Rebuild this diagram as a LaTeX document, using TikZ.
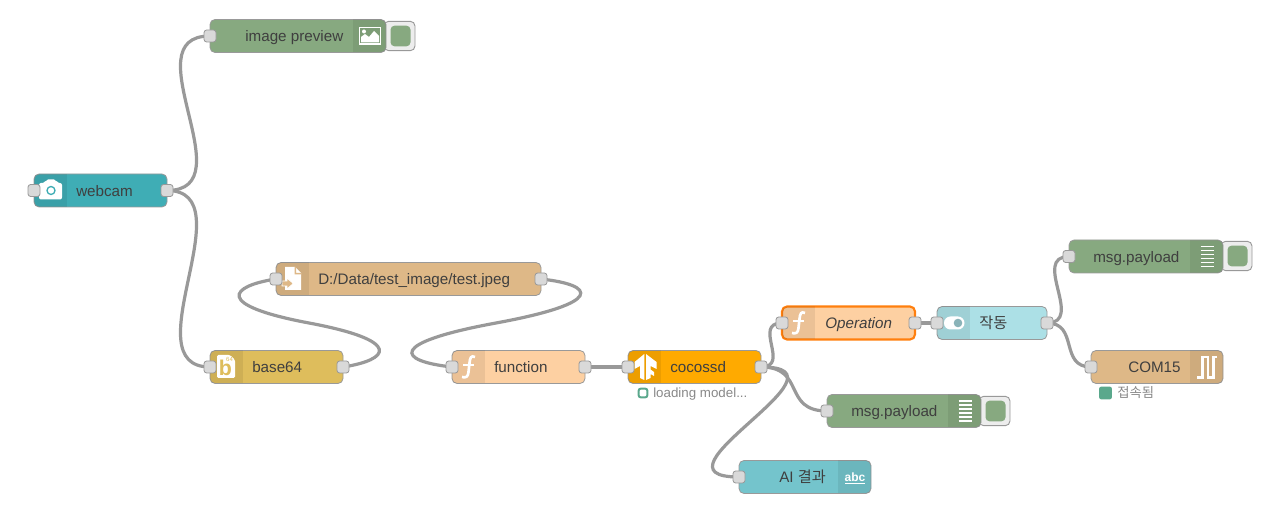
\documentclass[tikz,border=0pt]{standalone}
\usepackage{fontspec}
\setmainfont{Liberation Sans}
\newfontfamily\cjk{Noto Sans CJK KR}
\usetikzlibrary{backgrounds}

\definecolor{boxline}{HTML}{999999}
\definecolor{portfill}{HTML}{D9D9D9}
\definecolor{wirecol}{HTML}{999999}
\definecolor{labelcol}{HTML}{3F3F3F}
\definecolor{statuscol}{HTML}{888888}
\definecolor{statusgreen}{HTML}{5AA88C}
\definecolor{webcamcol}{HTML}{3FADB5}
\definecolor{debugcol}{HTML}{87A980}
\definecolor{filecol}{HTML}{DEB887}
\definecolor{basecol}{HTML}{DEBD5C}
\definecolor{funccol}{HTML}{FDD0A2}
\definecolor{cococol}{HTML}{FFAA00}
\definecolor{switchcol}{HTML}{ACE0E6}
\definecolor{textcol}{HTML}{74C4CC}
\definecolor{selcol}{HTML}{FF7F0E}

\tikzset{
  flowbox/.style={draw=boxline, line width=0.6pt, rounded corners=3.75pt, minimum height=24.75pt,
    inner sep=0pt, outer sep=0pt, anchor=west},
  flowport/.style={draw=boxline, fill=portfill, line width=0.6pt, rounded corners=2pt,
    minimum width=9pt, minimum height=9pt, inner sep=0pt, outer sep=0pt},
  flowbutton/.style={draw=boxline, fill=white!93!black, line width=0.7pt, rounded corners=3.5pt,
    minimum width=23.25pt, minimum height=22pt, inner sep=0pt, outer sep=0pt, anchor=west},
  buttonface/.style={fill=debugcol, rounded corners=3pt, minimum width=15pt, minimum height=15.5pt,
    inner sep=0pt, outer sep=0pt},
  flowlabel/.style={text=labelcol, font=\fontsize{11.4}{13}\selectfont, inner sep=0pt, anchor=base west, yshift=-4.2pt},
  statuslabel/.style={text=statuscol, font=\fontsize{10}{12}\selectfont, inner sep=0pt, anchor=base west, yshift=-3.5pt},
  wire/.style={draw=wirecol, line width=2.4pt},
  functionicon/.pic={
    \draw[white, line width=2pt] (7,-10) .. controls (3,-12) and (2,-9) .. (1.5,-4) -- (0.5,5)
      .. controls (0,10) and (-2,11) .. (-6,10);
    \draw[white, line width=1.2pt] (-5,-2) -- (6,-2);
  },
  debugicon/.pic={
    \foreach \k in {-10,-6,-2,2,6,10}
      \draw[white, line width=1.1pt] (-6.5,\k) -- (6.5,\k);
  }
}

\newcommand{\iconleft}[1]{
  \begin{scope}
    \clip[rounded corners=3.75pt] (#1.south west) rectangle (#1.north east);
    \fill[black, fill opacity=.07] (#1.south west) rectangle ([xshift=24.75pt]#1.north west);
  \end{scope}
}
\newcommand{\iconright}[1]{
  \begin{scope}
    \clip[rounded corners=3.75pt] (#1.south west) rectangle (#1.north east);
    \fill[black, fill opacity=.07] (#1.south east) rectangle ([xshift=-24.75pt]#1.north east);
  \end{scope}
}

\begin{document}
\begin{tikzpicture}[x=0.75pt,y=-0.75pt]
\useasboundingbox (0,0) rectangle (1268,516);

% buttons sit behind the boxes
\node[flowbutton] (previewBtn) at (384,36) {};
\node[flowbutton] (debugTopBtn) at (1221,256) {};
\node[flowbutton] (debugLowBtn) at (979,411) {};
\node[buttonface] (previewFace) at (400.5,36) {};
\node[buttonface] (debugTopFace) at (1237.5,256) {};
\node[buttonface] (debugLowFace) at (995.5,411) {};

\node[flowbox, fill=webcamcol, minimum width=99.75pt] (webcam) at (34,190.5) {};
\node[flowbox, fill=debugcol, minimum width=132pt] (preview) at (210,36) {};
\node[flowbox, fill=filecol, minimum width=198.75pt] (readfile) at (276,279) {};
\node[flowbox, fill=basecol, minimum width=99.75pt] (base64) at (210,367) {};
\node[flowbox, fill=funccol, minimum width=99.75pt] (func) at (452,367) {};
\node[flowbox, fill=cococol, minimum width=99.75pt] (cocossd) at (628,367) {};
\node[flowbox, fill=funccol, draw=selcol, line width=1.6pt, minimum width=99.75pt] (operation) at (782,323) {};
\node[flowbox, fill=switchcol, minimum width=82.5pt] (toggle) at (937,323) {};
\node[flowbox, fill=debugcol, minimum width=115.5pt] (debugTop) at (1069,256.5) {};
\node[flowbox, fill=filecol, minimum width=99pt] (serial) at (1091,367) {};
\node[flowbox, fill=debugcol, minimum width=115.5pt] (debugLow) at (827,411) {};
\node[flowbox, fill=textcol, minimum width=99pt] (result) at (739,477) {};

\iconleft{webcam}
\iconright{preview}
\iconleft{readfile}
\iconleft{base64}
\iconleft{func}
\iconleft{cocossd}
\iconleft{operation}
\iconleft{toggle}
\iconright{debugTop}
\iconright{serial}
\iconright{debugLow}
\iconright{result}

% camera
\fill[white, rounded corners=1.5pt] (39,183) -- (45,183) -- (46,179.5) -- (56,179.5) -- (57,183) -- (62,183)
  -- (62,199.5) -- (39,199.5) -- cycle;
\draw[webcamcol, line width=1pt] (51,190.5) circle (4);
% image
\draw[white, line width=1.2pt] (359.5,27.5) rectangle (380.5,44);
\fill[white] (361,42.5) -- (361,37) -- (365,34) -- (369,37) -- (374,31) -- (379,36) -- (379,42.5) -- cycle;
\fill[white] (364,31.5) circle (2);
% file
\fill[white] (285,267) -- (295,267) -- (301,273) -- (301,290) -- (285,290) -- cycle;
\fill[filecol] (296,267) -- (296,273) -- (301,273) -- (301,274.5) -- (294.5,274.5) -- (294.5,267) -- cycle;
\fill[filecol, draw=white, line width=0.7pt] (282,281) -- (287,281) -- (287,278) -- (293.5,283.5) -- (287,289) -- (287,286) -- (282,286) -- cycle;
% b64
\fill[white, rounded corners=1pt] (217,355) -- (230,355) -- (235,360) -- (235,378) -- (217,378) -- cycle;
\node[text=basecol, font=\bfseries\fontsize{16}{16}\selectfont, inner sep=0pt] (base64b) at (225.5,368) {b};
\node[text=basecol, font=\fontsize{4.5}{5}\selectfont, inner sep=0pt] (base64n) at (229.5,359.5) {64};
% f
\pic at (468,367) {functionicon};
\pic at (798,323) {functionicon};
% tensorflow
\fill[white] (634.5,362) -- (644.3,354) -- (644.3,380) -- (640,378) -- (640,366) -- (634.5,369) -- cycle;
\fill[white] (646,354) -- (656.5,362) -- (656.5,369) -- (650.5,366) -- (650.5,369.5) -- (654,372) -- (654,376) -- (650.5,374) -- (650.5,378) -- (646,380) -- cycle;
% switch
\fill[white, rounded corners=4.8pt] (944,316.5) rectangle (964.5,329.5);
\fill[switchcol!80!black] (958,323) circle (4.3);
% debug lines
\pic at (1207,256.5) {debugicon};
\pic at (965,411) {debugicon};
% serial
\draw[white, line width=2pt] (1197,377.5) -- (1202.5,377.5) -- (1202.5,357) -- (1208,357) -- (1208,377.5) -- (1213.5,377.5) -- (1213.5,357) -- (1217,357);
% abc
\node[text=white, font=\bfseries\fontsize{9}{10}\selectfont, inner sep=0pt] (abcIcon) at (855,477) {abc};
\draw[white, line width=1pt] (845,483.5) -- (865,483.5);

\node[flowlabel] (webcamText) at (76,190.5) {webcam};
\node[flowlabel] (previewText) at (245,36) {image preview};
\node[flowlabel] (readfileText) at (318,279) {D:/Data/test\_image/test.jpeg};
\node[flowlabel] (base64Text) at (252,367) {base64};
\node[flowlabel] (funcText) at (494,367) {function};
\node[flowlabel] (cocossdText) at (670,367) {cocossd};
\node[flowlabel, font=\fontsize{11.4}{13}\selectfont\itshape] (operationText) at (825,323) {Operation};
\node[flowlabel] (toggleText) at (979,323) {\cjk 작동};
\node[flowlabel] (debugTopText) at (1093,256.5) {msg.payload};
\node[flowlabel] (serialText) at (1128,367) {COM15};
\node[flowlabel] (debugLowText) at (851,411) {msg.payload};
\node[flowlabel] (resultText) at (779,477) {AI {\cjk 결과}};

% status lines
\node[draw=statusgreen, fill=white, line width=1.5pt, rounded corners=1.5pt, minimum width=6.5pt, minimum height=6.5pt, inner sep=0pt] (cocossdDot) at (643,393) {};
\node[statuslabel] (cocossdStatus) at (653,393) {loading model...};
\node[fill=statusgreen, rounded corners=1.5pt, minimum width=9.5pt, minimum height=9.5pt, inner sep=0pt] (serialDot) at (1105.5,393) {};
\node[statuslabel] (serialStatus) at (1117,393) {\cjk 접속됨};

% ports
\node[flowport] (webcamIn) at (webcam.west) {};
\node[flowport] (webcamOut) at (webcam.east) {};
\node[flowport] (previewIn) at (preview.west) {};
\node[flowport] (readfileIn) at (readfile.west) {};
\node[flowport] (readfileOut) at (readfile.east) {};
\node[flowport] (base64In) at (base64.west) {};
\node[flowport] (base64Out) at (base64.east) {};
\node[flowport] (funcIn) at (func.west) {};
\node[flowport] (funcOut) at (func.east) {};
\node[flowport] (cocossdIn) at (cocossd.west) {};
\node[flowport] (cocossdOut) at (cocossd.east) {};
\node[flowport] (operationIn) at (operation.west) {};
\node[flowport] (operationOut) at (operation.east) {};
\node[flowport] (toggleIn) at (toggle.west) {};
\node[flowport] (toggleOut) at (toggle.east) {};
\node[flowport] (debugTopIn) at (debugTop.west) {};
\node[flowport] (serialIn) at (serial.west) {};
\node[flowport] (debugLowIn) at (debugLow.west) {};
\node[flowport] (resultIn) at (result.west) {};

% the two long wires bend back through a middle point
\coordinate (loopLeft) at (309,323);
\coordinate (loopRight) at (496,323);

\begin{scope}[on background layer]
\draw[wire] (webcamOut.center) .. controls +(80,0) and +(-80,0) .. (previewIn.center);
\draw[wire] (webcamOut.center) .. controls +(80,0) and +(-80,0) .. (base64In.center);
\draw[wire] (base64Out.center) .. controls +(46,-7) and +(96,18) .. (loopLeft)
  .. controls +(-96,-18) and +(-46,7) .. (readfileIn.center);
\draw[wire] (readfileOut.center) .. controls +(55,6) and +(109,-20) .. (loopRight)
  .. controls +(-109,20) and +(-55,-6) .. (funcIn.center);
\draw[wire] (funcOut.center) -- (cocossdIn.center);
\draw[wire] (cocossdOut.center) .. controls +(30,0) and +(-30,0) .. (operationIn.center);
\draw[wire] (cocossdOut.center) .. controls +(45,0) and +(-45,0) .. (debugLowIn.center);
\draw[wire] (cocossdOut.center) .. controls +(100,0) and +(-100,0) .. (resultIn.center);
\draw[wire] (operationOut.center) -- (toggleIn.center);
\draw[wire] (toggleOut.center) .. controls +(38,0) and +(-38,0) .. (debugTopIn.center);
\draw[wire] (toggleOut.center) .. controls +(32,0) and +(-32,0) .. (serialIn.center);
\end{scope}

\end{tikzpicture}
\end{document}
